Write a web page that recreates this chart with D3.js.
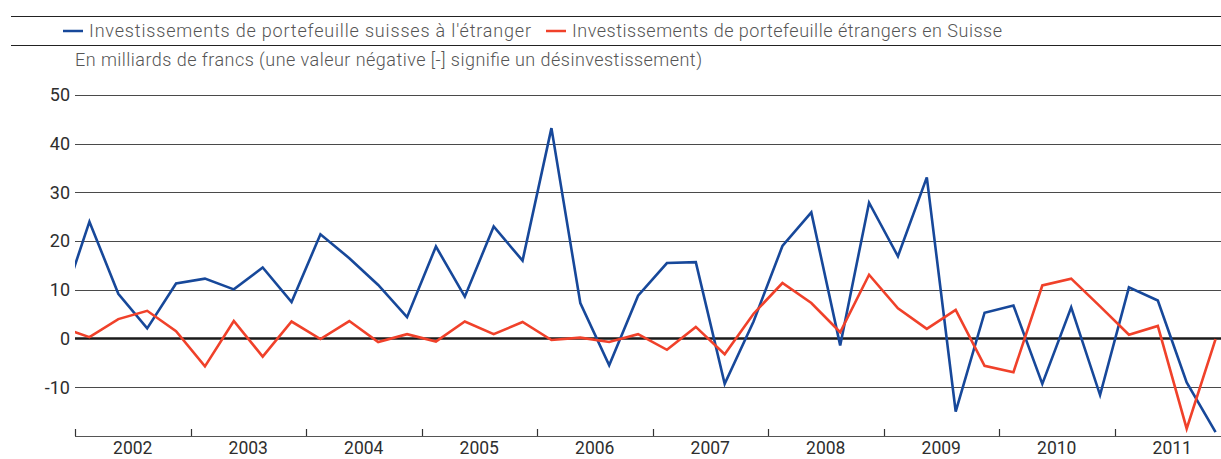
<!DOCTYPE html>
<meta charset="utf-8">
<style>
body { margin: 0; background: #fff; }
svg { display: block; font-family: Roboto, "Liberation Sans", sans-serif; }
.grid line { stroke: #4a4a4a; stroke-width: 1px; shape-rendering: crispEdges; }
.zero { stroke: #1a1a1a; stroke-width: 2.5px; }
.rule { stroke: #222; stroke-width: 1.2px; }
.tick-label { fill: #2e2e2e; font-size: 18px; }
.year-label { fill: #2e2e2e; font-size: 17.5px; }
.legend-text { fill: #555; font-size: 18px; font-weight: 300; }
.line { fill: none; stroke-width: 2.6px; stroke-linejoin: miter; }
</style>
<div id="chart"></div>
<script src="https://d3js.org/d3.v7.min.js"></script>
<script>
// quarterly flows, billions of francs (first entry = 2001 Q4, only its segment shows)
var quarters = ["2001-4",
  "2002-1","2002-2","2002-3","2002-4","2003-1","2003-2","2003-3","2003-4",
  "2004-1","2004-2","2004-3","2004-4","2005-1","2005-2","2005-3","2005-4",
  "2006-1","2006-2","2006-3","2006-4","2007-1","2007-2","2007-3","2007-4",
  "2008-1","2008-2","2008-3","2008-4","2009-1","2009-2","2009-3","2009-4",
  "2010-1","2010-2","2010-3","2010-4","2011-1","2011-2","2011-3","2011-4"];
var swissAbroad = [6.2,
  24.0, 9.2, 2.1, 11.3, 12.3, 10.1, 14.6, 7.5,
  21.4, 16.5, 11.0, 4.4, 18.9, 8.6, 23.0, 16.0,
  43.2, 7.3, -5.5, 8.8, 15.5, 15.7, -9.3, 3.5,
  19.0, 25.9, -1.4, 27.9, 16.9, 33.1, -15.0, 5.3,
  6.8, -9.3, 6.4, -11.6, 10.5, 7.8, -9.0, -19.2];
var foreignInSwiss = [2.3,
  0.3, 4.0, 5.7, 1.5, -5.7, 3.6, -3.7, 3.5,
  -0.1, 3.6, -0.7, 0.9, -0.6, 3.5, 0.9, 3.4,
  -0.3, 0.2, -0.7, 0.9, -2.3, 2.4, -3.2, 5.1,
  11.4, 7.3, 1.3, 13.1, 6.2, 2.0, 5.9, -5.6,
  -6.9, 10.9, 12.3, 6.6, 0.8, 2.6, -18.5, -0.1];
var years = [2002, 2003, 2004, 2005, 2006, 2007, 2008, 2009, 2010, 2011];
var yTicks = [-10, 0, 10, 20, 30, 40, 50];
var seriesNames = ["Investissements de portefeuille suisses à l'étranger",
                   "Investissements de portefeuille étrangers en Suisse"];
var seriesColors = ["#17489a", "#f0412a"];
var unitNote = "En milliards de francs (une valeur négative [-] signifie un désinvestissement)";

var W = 1221, H = 459;
var margin = {left: 75, right: 1230, top: 95, bottom: 436};

var svg = d3.select("#chart").append("svg")
    .attr("width", W)
    .attr("height", H);

var x = d3.scaleLinear().domain([2002, 2012]).range([margin.left, margin.right]);
var y = d3.scaleLinear().domain([-20, 50]).range([margin.bottom, margin.top]);

function qPos(q) {
  var p = q.split("-");
  return +p[0] + (+p[1] - 0.5) / 4;
}

// header rules + legend
svg.append("line").attr("class", "rule")
    .attr("x1", 11).attr("x2", W).attr("y1", 16.5).attr("y2", 16.5);
svg.append("line").attr("class", "rule")
    .attr("x1", 11).attr("x2", W).attr("y1", 45.5).attr("y2", 45.5);

// the original face is wider than Roboto Light, so stretch spacing to its widths
var legendWidths = [442, 430];
var legend = svg.append("g");
var lx = 63;
seriesNames.forEach(function(name, i) {
  legend.append("line")
      .attr("x1", lx).attr("x2", lx + 20)
      .attr("y1", 31).attr("y2", 31)
      .attr("stroke", seriesColors[i]).attr("stroke-width", 2.5);
  legend.append("text")
      .attr("class", "legend-text")
      .attr("x", lx + 26).attr("y", 31).attr("dy", "0.35em")
      .attr("textLength", legendWidths[i])
      .attr("lengthAdjust", "spacing")
      .text(name);
  lx += 26 + legendWidths[i] + 15;
});

svg.append("text")
    .attr("class", "legend-text")
    .attr("x", 75).attr("y", 60).attr("dy", "0.35em")
    .attr("textLength", 627)
    .attr("lengthAdjust", "spacing")
    .text(unitNote);

// grid
var grid = svg.append("g").attr("class", "grid");
grid.selectAll("line")
    .data(yTicks.filter(function(d) { return d !== 0; }))
    .enter().append("line")
    .attr("x1", margin.left).attr("x2", W)
    .attr("y1", function(d) { return Math.round(y(d)) + 0.5; })
    .attr("y2", function(d) { return Math.round(y(d)) + 0.5; });

svg.selectAll(".ylab")
    .data(yTicks)
    .enter().append("text")
    .attr("class", "tick-label")
    .attr("text-anchor", "end")
    .attr("x", 70)
    .attr("y", function(d) { return y(d); })
    .attr("dy", "0.35em")
    .text(function(d) { return d; });

// x axis: year boundary ticks, labels in the middle
var xAxis = svg.append("g");
xAxis.append("line")
    .attr("x1", margin.left).attr("x2", W)
    .attr("y1", margin.bottom + 0.5).attr("y2", margin.bottom + 0.5)
    .attr("stroke", "#555").attr("stroke-width", 1.2);
xAxis.selectAll(".xt")
    .data(years)
    .enter().append("line")
    .attr("x1", function(d) { return Math.round(x(d)) + 0.5; })
    .attr("x2", function(d) { return Math.round(x(d)) + 0.5; })
    .attr("y1", margin.bottom).attr("y2", margin.bottom - 7)
    .attr("stroke", "#333").attr("stroke-width", 1.2);
xAxis.selectAll(".xl")
    .data(years)
    .enter().append("text")
    .attr("class", "year-label")
    .attr("text-anchor", "middle")
    .attr("x", function(d) { return x(d + 0.5); })
    .attr("y", 454)
    .text(function(d) { return d; });

// zero line
svg.append("line").attr("class", "zero")
    .attr("x1", margin.left).attr("x2", W)
    .attr("y1", y(0)).attr("y2", y(0));

// series lines, clipped to plot area
svg.append("clipPath").attr("id", "plot")
  .append("rect")
    .attr("x", margin.left).attr("y", 0)
    .attr("width", W - margin.left).attr("height", H);

var line = d3.line()
    .x(function(d) { return x(d.t); })
    .y(function(d) { return y(d.v); });

[swissAbroad, foreignInSwiss].forEach(function(vals, i) {
  var data = quarters.map(function(q, j) { return { t: qPos(q), v: vals[j] }; });
  svg.append("path")
      .datum(data)
      .attr("class", "line")
      .attr("clip-path", "url(#plot)")
      .attr("stroke", seriesColors[i])
      .attr("d", line);
});
</script>
